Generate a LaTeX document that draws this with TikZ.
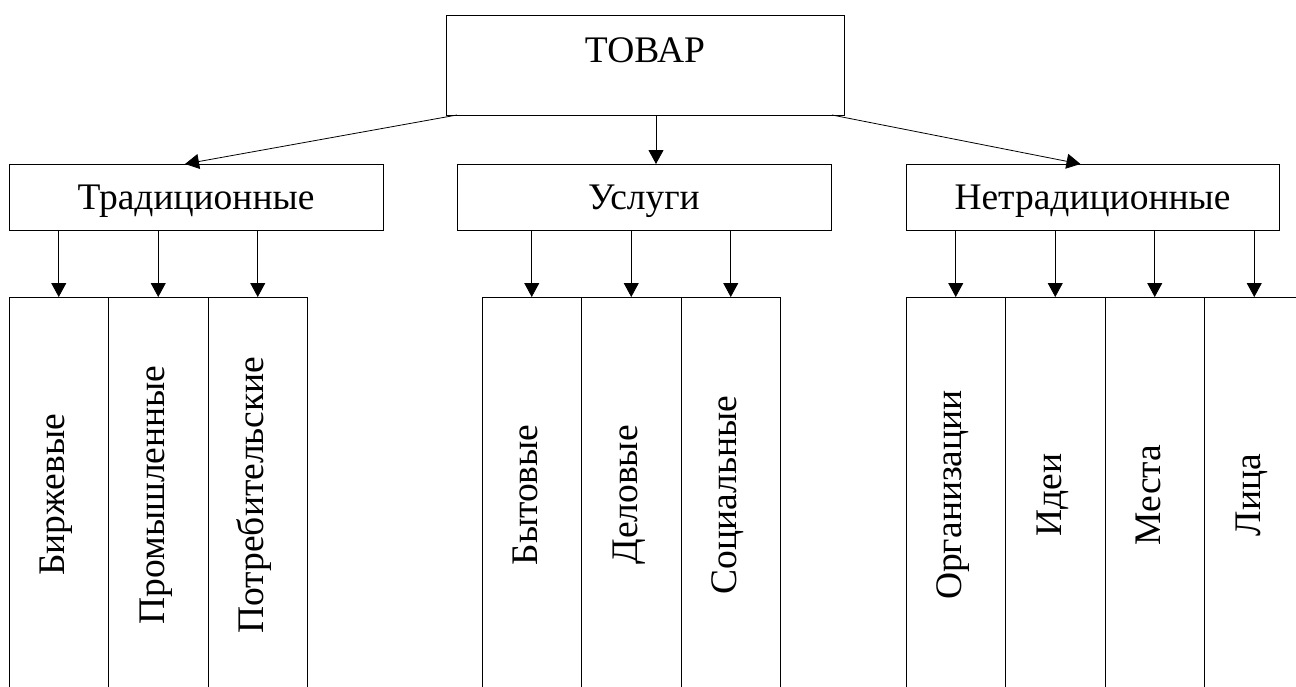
\documentclass[tikz,border=0pt]{standalone}
\usepackage{fontspec}
\setmainfont{Liberation Serif}
\usetikzlibrary{positioning}
\usetikzlibrary{arrows.meta}

\tikzset{
  box/.style={rectangle, draw, line width=1pt, inner sep=0pt, outer sep=0pt, font=\fontsize{37.5}{45}\selectfont},
  group/.style={box, minimum width=374pt, minimum height=66pt, text height=25pt, text depth=0pt},
  col/.style={rectangle, draw, line width=1pt, inner sep=0pt, outer sep=0pt, minimum width=99.5pt, minimum height=396pt},
  vlabel/.style={rotate=90, anchor=base, inner sep=0pt, font=\fontsize{37.5}{45}\selectfont},
  arr/.style={-{Triangle[length=14pt,width=15pt]}, line width=0.8pt}
}

\begin{document}
\begin{tikzpicture}[x=1pt, y=-1pt]

    \path[use as bounding box] (0,0) rectangle (1296,686);
    \clip (0,0) rectangle (1296,686);

    % Define nodes
    \node[box, minimum width=398pt, minimum height=100pt] (tovar) at (645,65) {};
    \node[anchor=base, inner sep=0pt, font=\fontsize{37.5}{45}\selectfont] (tovarlbl) at ([yshift=-47pt]tovar.north) {ТОВАР};

    \node[group] (trad) at (196,197) {Традиционные};
    \node[group] (usl) at (644,197) {Услуги};
    \node[group, minimum width=373pt] (netrad) at (1092.5,197) {Нетрадиционные};

    \node[col, anchor=north west] (birzh) at (9,297) {};
    \node[col, right=0pt of birzh] (prom) {};
    \node[col, right=0pt of prom] (potr) {};

    \node[col, anchor=north west] (byt) at (482,297) {};
    \node[col, right=0pt of byt] (delo) {};
    \node[col, right=0pt of delo] (soc) {};

    \node[col, anchor=north west] (org) at (906,297) {};
    \node[col, right=0pt of org] (idei) {};
    \node[col, right=0pt of idei] (mesta) {};
    \node[col, right=0pt of mesta] (lica) {};

    \node[vlabel] at ([xshift=6pt]birzh.center) {Биржевые};
    \node[vlabel] at ([xshift=6pt]prom.center) {Промышленные};
    \node[vlabel] at ([xshift=6pt]potr.center) {Потребительские};
    \node[vlabel] at ([xshift=6pt]byt.center) {Бытовые};
    \node[vlabel] at ([xshift=6pt]delo.center) {Деловые};
    \node[vlabel] at ([xshift=6pt]soc.center) {Социальные};
    \node[vlabel] at ([xshift=6pt]org.center) {Организации};
    \node[vlabel] at ([xshift=6pt]idei.center) {Идеи};
    \node[vlabel] at ([xshift=6pt]mesta.center) {Места};
    \node[vlabel] at ([xshift=6pt]lica.center) {Лица};

    % Connect the nodes
    \draw[arr] ([xshift=11pt]tovar.south west) -- ([xshift=-11pt]trad.north);
    \draw[arr] ([xshift=11pt]tovar.south) -- ([xshift=12pt]usl.north);
    \draw[arr] ([xshift=-12pt]tovar.south east) -- ([xshift=-12pt]netrad.north);

    \draw[arr] (birzh.north |- trad.south) -- (birzh.north);
    \draw[arr] (prom.north |- trad.south) -- (prom.north);
    \draw[arr] (potr.north |- trad.south) -- (potr.north);
    \draw[arr] (byt.north |- usl.south) -- (byt.north);
    \draw[arr] (delo.north |- usl.south) -- (delo.north);
    \draw[arr] (soc.north |- usl.south) -- (soc.north);
    \draw[arr] (org.north |- netrad.south) -- (org.north);
    \draw[arr] (idei.north |- netrad.south) -- (idei.north);
    \draw[arr] (mesta.north |- netrad.south) -- (mesta.north);
    \draw[arr] (lica.north |- netrad.south) -- (lica.north);

\end{tikzpicture}
\end{document}
